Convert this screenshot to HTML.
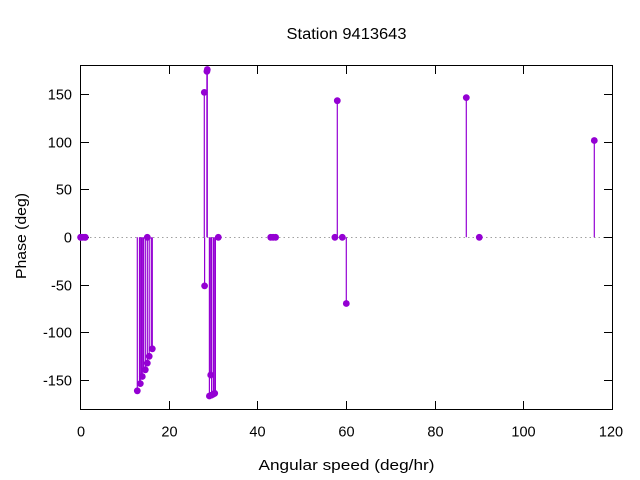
<!DOCTYPE html>
<html><head><meta charset="utf-8"><style>
html,body{margin:0;padding:0;background:#fff;}
svg{display:block;}
text{font-family:"Liberation Sans",sans-serif;fill:#000;}
</style></head><body>
<svg width="640" height="480" viewBox="0 0 640 480" xmlns="http://www.w3.org/2000/svg">
<rect x="0" y="0" width="640" height="480" fill="#fff"/>
<!-- zero axis -->
<line x1="81" y1="237.5" x2="612" y2="237.5" stroke="#a0a0a0" stroke-width="1" stroke-dasharray="1.5 3"/>
<!-- border -->
<rect x="80.5" y="65.5" width="532" height="344" fill="none" stroke="#000" stroke-width="1"/>
<!-- x ticks -->
<g stroke="#000" stroke-width="1">
<line x1="169.5" y1="409" x2="169.5" y2="401"/><line x1="169.5" y1="66" x2="169.5" y2="74"/>
<line x1="257.5" y1="409" x2="257.5" y2="401"/><line x1="257.5" y1="66" x2="257.5" y2="74"/>
<line x1="346.5" y1="409" x2="346.5" y2="401"/><line x1="346.5" y1="66" x2="346.5" y2="74"/>
<line x1="435.5" y1="409" x2="435.5" y2="401"/><line x1="435.5" y1="66" x2="435.5" y2="74"/>
<line x1="523.5" y1="409" x2="523.5" y2="401"/><line x1="523.5" y1="66" x2="523.5" y2="74"/>
<!-- y ticks -->
<line x1="81" y1="94.5" x2="89" y2="94.5"/><line x1="612" y1="94.5" x2="604" y2="94.5"/>
<line x1="81" y1="142.5" x2="89" y2="142.5"/><line x1="612" y1="142.5" x2="604" y2="142.5"/>
<line x1="81" y1="189.5" x2="89" y2="189.5"/><line x1="612" y1="189.5" x2="604" y2="189.5"/>
<line x1="81" y1="237.5" x2="89" y2="237.5"/><line x1="612" y1="237.5" x2="604" y2="237.5"/>
<line x1="81" y1="285.5" x2="89" y2="285.5"/><line x1="612" y1="285.5" x2="604" y2="285.5"/>
<line x1="81" y1="332.5" x2="89" y2="332.5"/><line x1="612" y1="332.5" x2="604" y2="332.5"/>
<line x1="81" y1="380.5" x2="89" y2="380.5"/><line x1="612" y1="380.5" x2="604" y2="380.5"/>
</g>
<!-- y tick labels -->
<g font-size="14.5" text-anchor="end">
<text x="72" y="99.5">150</text>
<text x="72" y="147.5">100</text>
<text x="72" y="194.5">50</text>
<text x="72" y="242.5">0</text>
<text x="72" y="290.5">-50</text>
<text x="72" y="337.5">-100</text>
<text x="72" y="385.5">-150</text>
</g>
<!-- x tick labels -->
<g font-size="14.5" text-anchor="middle">
<text x="81" y="436.5">0</text>
<text x="169.5" y="436.5">20</text>
<text x="257.5" y="436.5">40</text>
<text x="346.5" y="436.5">60</text>
<text x="435.5" y="436.5">80</text>
<text x="523.5" y="436.5">100</text>
<text x="611" y="436.5">120</text>
</g>
<!-- title & axis labels -->
<text x="346.5" y="39" font-size="15.5" text-anchor="middle" textLength="120" lengthAdjust="spacingAndGlyphs">Station 9413643</text>
<text x="346.5" y="470" font-size="15" text-anchor="middle" textLength="176" lengthAdjust="spacingAndGlyphs">Angular speed (deg/hr)</text>
<text transform="translate(26,236) rotate(-90)" x="0" y="0" font-size="15" text-anchor="middle" textLength="86" lengthAdjust="spacingAndGlyphs">Phase (deg)</text>
<!-- impulses -->
<g stroke="#9400d3" stroke-width="1.2">
<line x1="137.3" y1="237.3" x2="137.3" y2="390.8"/>
<line x1="139.5" y1="237.3" x2="139.5" y2="384.1"/>
<line x1="140.3" y1="237.3" x2="140.3" y2="383.6"/>
<line x1="141.5" y1="237.3" x2="141.5" y2="377.4"/>
<line x1="142.3" y1="237.3" x2="142.3" y2="376.5"/>
<line x1="143.5" y1="237.3" x2="143.5" y2="370.8"/>
<line x1="145.3" y1="237.3" x2="145.3" y2="369.8"/>
<line x1="147.3" y1="237.3" x2="147.3" y2="363.1"/>
<line x1="149.2" y1="237.3" x2="149.2" y2="356.3"/>
<line x1="151.3" y1="237.3" x2="151.3" y2="349.8"/>
<line x1="152.3" y1="237.3" x2="152.3" y2="348.8"/>
<line x1="204.3" y1="237.3" x2="204.3" y2="92.4"/>
<line x1="204.6" y1="237.3" x2="204.6" y2="285.9"/>
<line x1="206.9" y1="237.3" x2="206.9" y2="71.4"/>
<line x1="207.3" y1="237.3" x2="207.3" y2="69.5"/>
<line x1="209.4" y1="237.3" x2="209.4" y2="396.0"/>
<line x1="210.7" y1="237.3" x2="210.7" y2="375.0"/>
<line x1="211.6" y1="237.3" x2="211.6" y2="395.1"/>
<line x1="213.4" y1="237.3" x2="213.4" y2="394.1"/>
<line x1="214.7" y1="237.3" x2="214.7" y2="393.3"/>
<line x1="215.4" y1="237.3" x2="215.4" y2="392.7"/>
<line x1="337.3" y1="237.3" x2="337.3" y2="100.7"/>
<line x1="346.3" y1="237.3" x2="346.3" y2="303.5"/>
<line x1="466.3" y1="237.3" x2="466.3" y2="97.6"/>
<line x1="594.3" y1="237.3" x2="594.3" y2="140.5"/>
</g>
<!-- points -->
<g fill="#9400d3">
<circle cx="80.6" cy="237.3" r="3.4"/>
<circle cx="80.8" cy="237.3" r="3.4"/>
<circle cx="82.8" cy="237.3" r="3.4"/>
<circle cx="84.9" cy="237.3" r="3.4"/>
<circle cx="85.3" cy="237.3" r="3.4"/>
<circle cx="137.3" cy="390.8" r="3.4"/>
<circle cx="140.3" cy="383.6" r="3.4"/>
<circle cx="142.3" cy="376.5" r="3.4"/>
<circle cx="145.3" cy="369.8" r="3.4"/>
<circle cx="147.3" cy="363.1" r="3.4"/>
<circle cx="149.2" cy="356.3" r="3.4"/>
<circle cx="152.3" cy="348.8" r="3.4"/>
<circle cx="147.3" cy="237.3" r="3.4"/>
<circle cx="204.3" cy="92.4" r="3.4"/>
<circle cx="204.6" cy="285.9" r="3.4"/>
<circle cx="206.9" cy="71.4" r="3.4"/>
<circle cx="207.3" cy="69.5" r="3.4"/>
<circle cx="209.4" cy="396.0" r="3.4"/>
<circle cx="210.7" cy="375.0" r="3.4"/>
<circle cx="211.6" cy="395.1" r="3.4"/>
<circle cx="213.4" cy="394.1" r="3.4"/>
<circle cx="214.7" cy="393.3" r="3.4"/>
<circle cx="218.3" cy="237.3" r="3.4"/>
<circle cx="270.7" cy="237.3" r="3.4"/>
<circle cx="273.1" cy="237.3" r="3.4"/>
<circle cx="275.6" cy="237.3" r="3.4"/>
<circle cx="334.9" cy="237.3" r="3.4"/>
<circle cx="337.3" cy="100.7" r="3.4"/>
<circle cx="342.3" cy="237.3" r="3.4"/>
<circle cx="346.3" cy="303.5" r="3.4"/>
<circle cx="466.3" cy="97.6" r="3.4"/>
<circle cx="479.3" cy="237.3" r="3.4"/>
<circle cx="594.3" cy="140.5" r="3.4"/>
</g>
</svg>
</body></html>
